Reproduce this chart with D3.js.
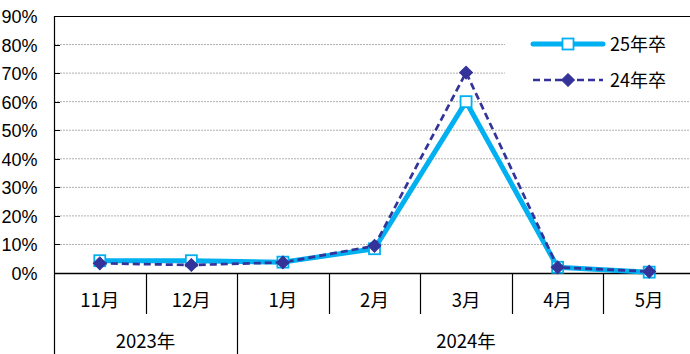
<!DOCTYPE html>
<html><head><meta charset="utf-8">
<script src="https://cdn.jsdelivr.net/npm/d3@7"></script>
<style>
html,body{margin:0;padding:0;background:#fff;overflow:hidden}
svg{display:block}
text{font-family:"Liberation Sans",Arial,sans-serif}
.jp{font-family:"Noto Sans CJK JP","Liberation Sans",sans-serif}
</style></head><body>
<svg id="c" width="690" height="354"></svg>
<script>
const months = ["11月","12月","1月","2月","3月","4月","5月"];
const years = [{label:"2023年", span:2},{label:"2024年", span:5}];
const series25 = [4.3, 4.3, 3.8, 8.5, 60.0, 2.0, 0.3];
const series24 = [3.4, 2.8, 3.7, 9.5, 70.2, 2.0, 0.5];
const seriesNames = ["25年卒","24年卒"];
const yTicks = [0,10,20,30,40,50,60,70,80,90];

const svg = d3.select("#c");
const L = 54, T = 16, B = 273, R = 695;
const x = d3.scaleBand().domain(months).range([L, R]);
const y = d3.scaleLinear().domain([0, 90]).range([B, T]);

// gridlines
svg.append("g").selectAll("line").data(yTicks.filter(d => d > 0 && d < 90)).join("line")
  .attr("x1", L).attr("x2", R).attr("y1", d => y(d)).attr("y2", d => y(d))
  .attr("stroke", "#b0b0b0").attr("stroke-width", 1).attr("stroke-dasharray", "2,1");

// top border
svg.append("line").attr("x1", L).attr("x2", R).attr("y1", y(90)+0.5).attr("y2", y(90)+0.5)
  .attr("stroke", "#000").attr("stroke-width", 1);

// y axis
const yAxis = d3.axisLeft(y).tickValues(yTicks).tickFormat(d => d + "%").tickSize(0).tickPadding(17);
const ya = svg.append("g").attr("transform", `translate(${L+0.5},0)`).call(yAxis);
ya.select(".domain").remove();
ya.selectAll("text").attr("font-size", 18).attr("fill", "#000")
  .attr("font-family", "'Liberation Sans Narrow', 'Liberation Sans', Arial, sans-serif")
  .attr("dy", "0.36em");
// small inner tick marks
svg.append("g").selectAll("line").data(yTicks).join("line")
  .attr("x1", L).attr("x2", L+6).attr("y1", d => Math.round(y(d))+0.5).attr("y2", d => Math.round(y(d))+0.5)
  .attr("stroke", "#000").attr("stroke-width", 1);

// left axis line (extends down)
svg.append("line").attr("x1", L+0.5).attr("x2", L+0.5).attr("y1", T).attr("y2", 354)
  .attr("stroke", "#000").attr("stroke-width", 1.2);

// x axis baseline
svg.append("line").attr("x1", L).attr("x2", R).attr("y1", B+0.5).attr("y2", B+0.5)
  .attr("stroke", "#000").attr("stroke-width", 1.3);

// month separators
const sepIdx = d3.range(1, months.length);
let cum = 0; const yearBounds = new Set();
years.forEach(yr => { cum += yr.span; yearBounds.add(cum); });
svg.append("g").selectAll("line").data(sepIdx).join("line")
  .attr("x1", i => Math.round(x(months[i]))+0.5).attr("x2", i => Math.round(x(months[i]))+0.5)
  .attr("y1", B).attr("y2", i => yearBounds.has(i) ? 354 : 314)
  .attr("stroke", "#000").attr("stroke-width", 1.2);

// month labels
svg.append("g").selectAll("text").data(months).join("text")
  .attr("class", "jp")
  .attr("x", d => x(d) + x.bandwidth()/2).attr("y", 307)
  .attr("text-anchor", "middle").attr("font-size", 18.5).attr("fill", "#000")
  .text(d => d);

// year labels
let start = 0;
years.forEach(yr => {
  const x0 = x(months[start]);
  const x1 = x(months[start + yr.span - 1]) + x.bandwidth();
  svg.append("text").attr("class", "jp")
    .attr("x", (x0 + x1)/2).attr("y", 348).attr("text-anchor", "middle")
    .attr("font-size", 18.5).attr("fill", "#000").text(yr.label);
  start += yr.span;
});

const cx = (d, i) => x(months[i]) + x.bandwidth()/2;
const line = d3.line().x((d, i) => cx(d, i)).y(d => y(d));

const c25 = "#00b0f0", c24 = "#333399";

// series 25
svg.append("path").datum(series25).attr("d", line).attr("fill", "none")
  .attr("stroke", c25).attr("stroke-width", 5).attr("stroke-linejoin", "round");
// series 24
svg.append("path").datum(series24).attr("d", line).attr("fill", "none")
  .attr("stroke", c24).attr("stroke-width", 2.7).attr("stroke-dasharray", "7,4");

// markers 25 (squares)
svg.append("g").selectAll("rect").data(series25).join("rect")
  .attr("x", (d, i) => cx(d, i) - 5.5).attr("y", d => y(d) - 5.5)
  .attr("width", 11).attr("height", 11)
  .attr("fill", "#fff").attr("stroke", c25).attr("stroke-width", 1.8);
// markers 24 (diamonds)
svg.append("g").selectAll("path").data(series24).join("path")
  .attr("transform", (d, i) => `translate(${cx(d, i)},${y(d)}) rotate(45)`)
  .attr("d", d3.symbol().type(d3.symbolSquare).size(82))
  .attr("fill", c24).attr("stroke", c24).attr("stroke-width", 1);

// legend
const lg = svg.append("g");
const ly1 = 44, ly2 = 80, lx0 = 533, lx1 = 603, lxm = 568;
lg.append("rect").attr("x", 505).attr("y", 28).attr("width", 185).attr("height", 68).attr("fill", "#fff");
lg.append("line").attr("x1", lx0).attr("x2", lx1).attr("y1", ly1).attr("y2", ly1)
  .attr("stroke", c25).attr("stroke-width", 5).attr("stroke-linecap", "round");
lg.append("rect").attr("x", lxm - 5.5).attr("y", ly1 - 5.5).attr("width", 11).attr("height", 11)
  .attr("fill", "#fff").attr("stroke", c25).attr("stroke-width", 1.8);
lg.append("line").attr("x1", lx0).attr("x2", lx1).attr("y1", ly2).attr("y2", ly2)
  .attr("stroke", c24).attr("stroke-width", 2.7).attr("stroke-dasharray", "7,4");
lg.append("path").attr("transform", `translate(${lxm},${ly2}) rotate(45)`)
  .attr("d", d3.symbol().type(d3.symbolSquare).size(82)).attr("fill", c24).attr("stroke", c24);
lg.selectAll("text").data(seriesNames).join("text").attr("class", "jp")
  .attr("x", 610).attr("y", (d, i) => (i ? ly2 : ly1) + 7)
  .attr("font-size", 18).attr("fill", "#000").text(d => d);
</script>
</body></html>
